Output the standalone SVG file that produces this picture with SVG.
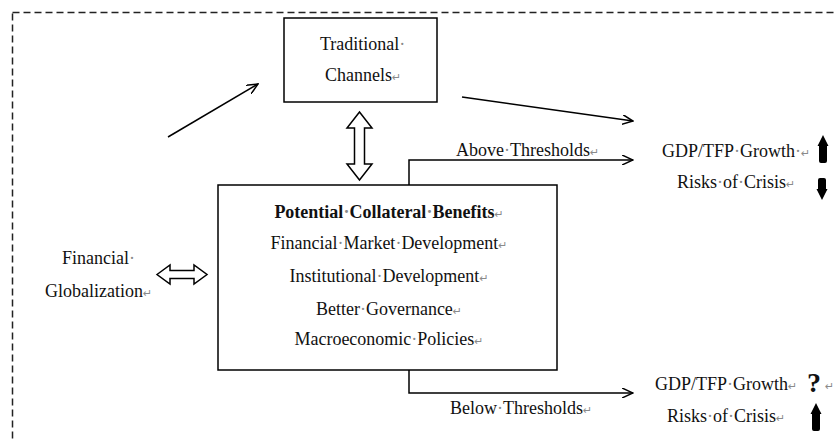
<svg xmlns="http://www.w3.org/2000/svg" width="835" height="441" viewBox="0 0 835 441" font-family="'Liberation Serif', Tinos, 'Times New Roman', 'DejaVu Serif', serif">
<defs>
<style>
text{font-family:'Liberation Serif', Tinos, 'Times New Roman', 'DejaVu Serif', serif}
.t{font-size:18px;fill:#111}
.b{font-weight:bold}
.m{font-family:'DejaVu Sans', sans-serif;font-size:11px;fill:#8a8a8a}
.d{fill:#8a8a8a}
.box{fill:#fff;stroke:#000;stroke-width:1.5}
.c{fill:none;stroke:#000;stroke-width:1.5}
.dbl{fill:#fff;stroke:#000;stroke-width:1.5;stroke-linejoin:miter}
.blk{fill:#000}
</style>
<marker id="ah" viewBox="0 0 12 10" refX="11" refY="5" markerWidth="12" markerHeight="10" markerUnits="userSpaceOnUse" orient="auto">
<path d="M0,0 L11,5 L0,10" fill="none" stroke="#000" stroke-width="1.5"/>
</marker>
</defs>
<rect x="12.5" y="12.5" width="840" height="440" fill="none" stroke="#222" stroke-width="1.5" stroke-dasharray="7 4"/>

<g id="connectors">
<line class="c" x1="168" y1="137" x2="258" y2="84" marker-end="url(#ah)"/>
<line class="c" x1="462" y1="97" x2="633" y2="121" marker-end="url(#ah)"/>
<polyline class="c" points="409,185 409,160 633,160" marker-end="url(#ah)"/>
<polyline class="c" points="409,370 409,393 633,393" marker-end="url(#ah)"/>
<path class="dbl" d="M359.5,112 L372,128 L364.5,128 L364.5,164 L372,164 L359.5,180 L347,164 L354.5,164 L354.5,128 L347,128 Z"/>
<path class="dbl" d="M157,274.5 L170,265 L170,270.5 L194,270.5 L194,265 L207,274.5 L194,284 L194,278.5 L170,278.5 L170,284 Z"/>
<text class="t" x="456" y="156">Above<tspan class="d">·</tspan>Thresholds<tspan class="m">↵</tspan></text>
<text class="t" x="450" y="414">Below<tspan class="d">·</tspan>Thresholds<tspan class="m">↵</tspan></text>
</g>

<g id="traditional">
<rect class="box" x="284" y="18" width="153" height="84"/>
<text class="t" x="320" y="50">Traditional<tspan class="d">·</tspan></text>
<text class="t" x="325" y="81">Channels<tspan class="m">↵</tspan></text>
</g>

<g id="benefits">
<rect class="box" x="218" y="185" width="339" height="185"/>
<text class="t b" x="389" y="218" text-anchor="middle">Potential<tspan class="d">·</tspan>Collateral<tspan class="d">·</tspan>Benefits<tspan class="m" font-weight="normal">↵</tspan></text>
<text class="t" x="389" y="249" text-anchor="middle">Financial<tspan class="d">·</tspan>Market<tspan class="d">·</tspan>Development<tspan class="m">↵</tspan></text>
<text class="t" x="389" y="282" text-anchor="middle">Institutional<tspan class="d">·</tspan>Development<tspan class="m">↵</tspan></text>
<text class="t" x="389" y="315" text-anchor="middle">Better<tspan class="d">·</tspan>Governance<tspan class="m">↵</tspan></text>
<text class="t" x="389" y="345" text-anchor="middle">Macroeconomic<tspan class="d">·</tspan>Policies<tspan class="m">↵</tspan></text>
</g>

<g id="globalization">
<text class="t" x="62" y="264">Financial<tspan class="d">·</tspan></text>
<text class="t" x="45" y="297">Globalization<tspan class="m">↵</tspan></text>
</g>

<g id="above-outcome">
<text class="t" x="662" y="157">GDP/TFP<tspan class="d">·</tspan>Growth<tspan class="d">·</tspan><tspan class="m">↵</tspan></text>
<text class="t" x="677" y="188">Risks<tspan class="d">·</tspan>of<tspan class="d">·</tspan>Crisis<tspan class="m">↵</tspan></text>
<path class="blk" d="M823,135 L828.5,146 L827,146 L827,161 Q827,163 825,163 L821,163 Q819,163 819,161 L819,146 L817.5,146 Z"/>
<path class="blk" d="M822,200 L827.5,189 L826,189 L826,180 Q826,178 824,178 L820,178 Q818,178 818,180 L818,189 L816.5,189 Z"/>
</g>

<g id="below-outcome">
<text class="t" x="655" y="390">GDP/TFP<tspan class="d">·</tspan>Growth<tspan class="m">↵</tspan></text>
<text class="b" x="807" y="392" font-size="28px" fill="#111">?</text>
<text class="m" x="825" y="390">↵</text>
<text class="t" x="667" y="422">Risks<tspan class="d">·</tspan>of<tspan class="d">·</tspan>Crisis<tspan class="m">↵</tspan></text>
<path class="blk" d="M816,403 L821.5,414 L820,414 L820,429 Q820,431 818,431 L814,431 Q812,431 812,429 L812,414 L810.5,414 Z"/>
</g>
</svg>
